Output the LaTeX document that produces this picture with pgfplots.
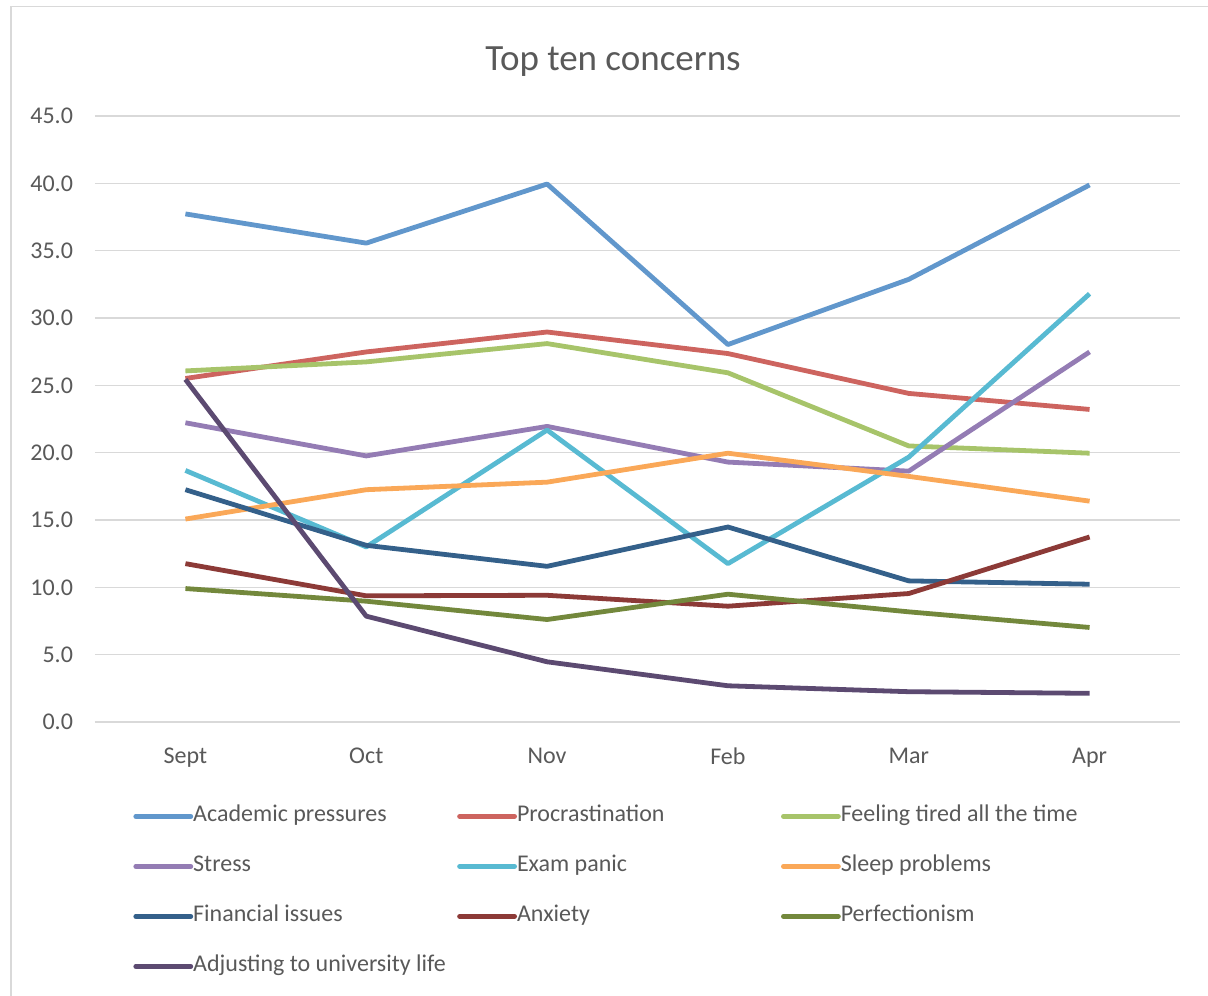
\documentclass[border=0pt]{standalone}
\usepackage{pgfplots}
\pgfplotsset{compat=1.18}
\usepackage{fontspec}
\setmainfont{Carlito}
\definecolor{txt}{RGB}{89,89,89}
\definecolor{grd}{RGB}{217,217,217}
\definecolor{cA}{RGB}{97,151,204}
\definecolor{cB}{RGB}{205,100,95}
\definecolor{cC}{RGB}{167,196,106}
\definecolor{cD}{RGB}{148,124,180}
\definecolor{cE}{RGB}{88,186,210}
\definecolor{cF}{RGB}{250,168,88}
\definecolor{cG}{RGB}{52,96,138}
\definecolor{cH}{RGB}{140,58,55}
\definecolor{cI}{RGB}{115,136,60}
\definecolor{cJ}{RGB}{92,74,113}
\newcommand{\lt}[1]{\makebox[132pt][l]{#1}}
\begin{document}
\begin{tikzpicture}
\path[use as bounding box] (-47.5pt,-136.5pt) rectangle (556.5pt,361pt);
\draw[grd, line width=0.8pt] (-42pt,-140pt) -- (-42pt,357.8pt) -- (560pt,357.8pt);
\begin{axis}[
  at={(0pt,0pt)}, anchor=south west,
  scale only axis, width=542.5pt, height=303pt,
  xmin=-0.5, xmax=5.5, ymin=0, ymax=45,
  xtick={0,1,2,3,4,5},
  xticklabels={Sept,Oct,Nov,Feb,Mar,Apr},
  ytick={0,5,10,15,20,25,30,35,40,45},
  yticklabels={0.0,5.0,10.0,15.0,20.0,25.0,30.0,35.0,40.0,45.0},
  ymajorgrids,
  major grid style={grd, line width=0.8pt},
  axis line style={draw=none},
  major tick length=0pt,
  tick label style={font=\fontsize{12}{14}\selectfont, text=txt},
  yticklabel style={xshift=-7.5pt},
  xticklabel style={yshift=-9.5pt},
  legend columns=3,
  legend style={draw=none, fill=none, at={(axis description cs:0.0295,-0.1304)}, anchor=north west,
    font=\fontsize{12}{14}\selectfont, text=txt, column sep=0pt, row sep=14pt,
    nodes={inner sep=0pt, text height=8pt, text depth=3pt}},
  legend image code/.code={\draw[#1, line width=2.4pt, line cap=round] (0pt,0pt) -- (27.5pt,0pt);},
  every axis plot post/.append style={line width=2.4pt, line join=round},
  clip=false,
]
\addplot[cA] coordinates {(0,37.73) (1,35.56) (2,39.95) (3,28.03) (4,32.87) (5,39.88)};
\addlegendentry{\lt{Academic pressures}}
\addplot[cB] coordinates {(0,25.51) (1,27.48) (2,28.96) (3,27.36) (4,24.40) (5,23.21)};
\addlegendentry{\lt{Procrastination}}
\addplot[cC] coordinates {(0,26.07) (1,26.74) (2,28.10) (3,25.93) (4,20.50) (5,19.96)};
\addlegendentry{\lt{Feeling tired all the time}}
\addplot[cD] coordinates {(0,22.22) (1,19.76) (2,21.95) (3,19.30) (4,18.63) (5,27.48)};
\addlegendentry{\lt{Stress}}
\addplot[cE] coordinates {(0,18.68) (1,13.00) (2,21.68) (3,11.76) (4,19.67) (5,31.80)};
\addlegendentry{\lt{Exam panic}}
\addplot[cF] coordinates {(0,15.07) (1,17.25) (2,17.81) (3,19.96) (4,18.24) (5,16.40)};
\addlegendentry{\lt{Sleep problems}}
\addplot[cG] coordinates {(0,17.25) (1,13.12) (2,11.56) (3,14.48) (4,10.48) (5,10.23)};
\addlegendentry{\lt{Financial issues}}
\addplot[cH] coordinates {(0,11.76) (1,9.37) (2,9.41) (3,8.60) (4,9.54) (5,13.74)};
\addlegendentry{\lt{Anxiety}}
\addplot[cI] coordinates {(0,9.91) (1,8.97) (2,7.61) (3,9.49) (4,8.18) (5,7.02)};
\addlegendentry{\lt{Perfectionism}}
\addplot[cJ] coordinates {(0,25.44) (1,7.86) (2,4.47) (3,2.69) (4,2.25) (5,2.13)};
\addlegendentry{\lt{Adjusting to university life}}
\node[anchor=base, font=\fontsize{18.5}{22}\selectfont, text=txt] at (axis description cs:0.4774,1.0750) {Top ten concerns};
\end{axis}
\end{tikzpicture}
\end{document}
